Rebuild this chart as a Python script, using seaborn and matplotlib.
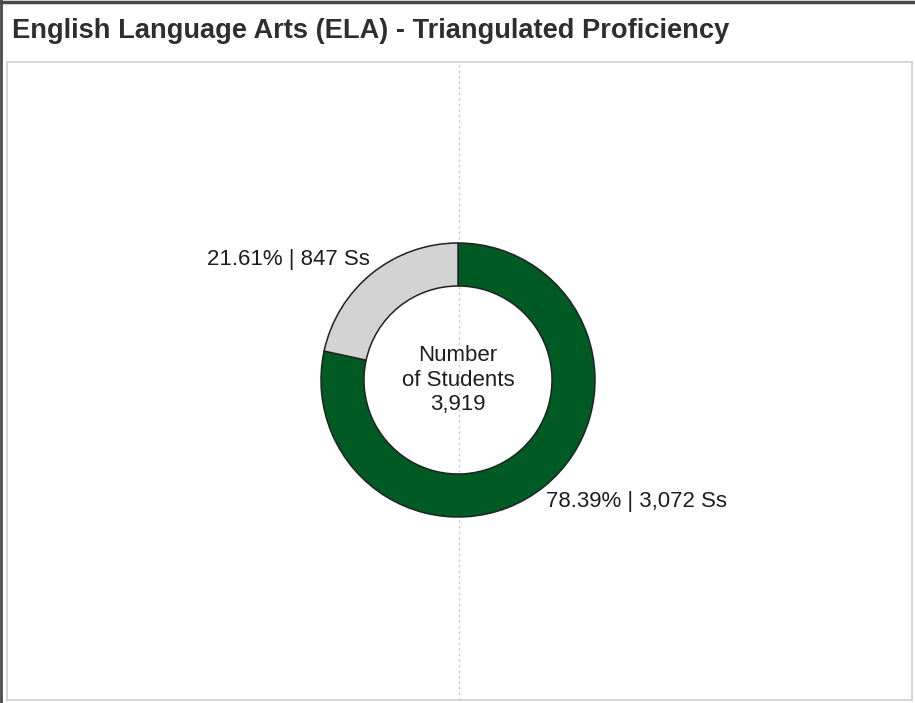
import numpy as np
import matplotlib
matplotlib.use('Agg')
import matplotlib.pyplot as plt
from matplotlib.lines import Line2D
import seaborn as sns

# data
groups = ['Proficient', 'Not Proficient']
students = [3072, 847]
pcts = [78.39, 21.61]
total = 3919
colors = ['#005a23', '#d3d3d3']

sns.set_theme(style='white')
plt.rcParams['font.family'] = ['Liberation Sans', 'DejaVu Sans']

W, H = 915, 703
fig = plt.figure(figsize=(W / 100, H / 100), dpi=100)

# panel in pixel coords: x 7..912, y 62..700 (from top); donut centre at (458, 380)
ax = fig.add_axes([7 / W, (H - 700) / H, 905 / W, 638 / H])

ax.axvline(1, color='#c8c8c8', lw=1, ls=(0, (1.5, 2.5)), zorder=0)

wedges, _ = ax.pie(students, colors=colors, startangle=90, counterclock=False,
                   radius=137, wedgeprops=dict(width=43, edgecolor='#222222', linewidth=1.1),
                   frame=True)
ax.set_xlim(-451, 454)
ax.set_ylim(-320, 318)
ax.set_aspect('equal', adjustable='box')
ax.set_xticks([])
ax.set_yticks([])
for s in ax.spines.values():
    s.set_visible(True)
    s.set_color('#cfcfcf')
    s.set_linewidth(1.2)

txt = '#1e1e1e'
ax.text(0, 0, f'Number\nof Students\n{total:,}', ha='center', va='center',
        fontsize=16, color=txt, linespacing=1.24)

ax.annotate(f'{pcts[1]:.2f}% | {students[1]:,} Ss', xy=(-88, 121), ha='right', va='center',
            fontsize=16, color=txt)
ax.annotate(f'{pcts[0]:.2f}% | {students[0]:,} Ss', xy=(88, -121), ha='left', va='center',
            fontsize=16, color=txt)

fig.text(12 / W, 1 - 31 / H, 'English Language Arts (ELA) - Triangulated Proficiency',
         ha='left', va='center', fontsize=19.6, fontweight='bold', color='#2e2e2e')

# outer frame (top and left darker edges)
fig.add_artist(Line2D([0, 1], [1 - 1.5 / H, 1 - 1.5 / H], transform=fig.transFigure,
                      color='#4a4a4a', lw=2.5))
fig.add_artist(Line2D([1 / W, 1 / W], [0, 1], transform=fig.transFigure,
                      color='#4a4a4a', lw=2))

fig.savefig('out.png', dpi=100)
